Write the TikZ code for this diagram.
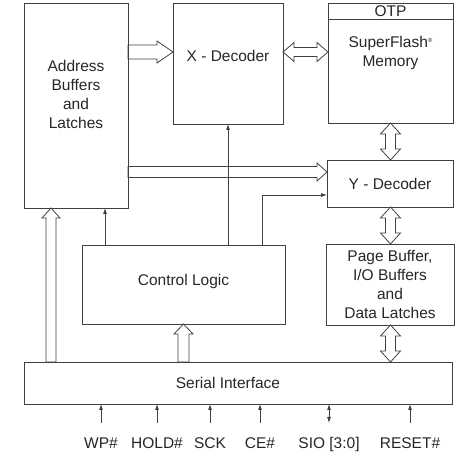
\documentclass[tikz,border=0pt]{standalone}
\usepackage{fontspec}
\setmainfont{Liberation Sans}
\usetikzlibrary{calc,arrows.meta}

\tikzset{
  wire/.style={draw=black!75, line width=0.8pt},
  box/.style={wire, inner sep=0pt, outer sep=0pt},
  txt/.style={align=center, text=black!85, font=\fontsize{15.5}{19}\selectfont},
  sig/.style={wire, -{Latex[length=6pt,width=4pt]}},
  sigboth/.style={wire, {Latex[length=6pt,width=4pt]}-{Latex[length=6pt,width=4pt]}},
  % hollow arrow: shaft half width / head half width / head length
  fat/.style args={#1/#2/#3}{to path={let \p1=($(\tikztotarget)!#3!(\tikztostart)$) in
    ($(\tikztostart)!#1!90:(\tikztotarget)$) -- ($(\p1)!#1!90:(\tikztotarget)$)
    -- ($(\p1)!#2!90:(\tikztotarget)$) -- (\tikztotarget)
    -- ($(\p1)!#2!-90:(\tikztotarget)$) -- ($(\p1)!#1!-90:(\tikztotarget)$)
    -- ($(\tikztostart)!#1!-90:(\tikztotarget)$) -- cycle}},
  fatboth/.style args={#1/#2/#3}{to path={let \p1=($(\tikztostart)!#3!(\tikztotarget)$),
    \p2=($(\tikztotarget)!#3!(\tikztostart)$) in
    (\tikztostart) -- ($(\p1)!#2!90:(\tikztotarget)$) -- ($(\p1)!#1!90:(\tikztotarget)$)
    -- ($(\p2)!#1!90:(\tikztotarget)$) -- ($(\p2)!#2!90:(\tikztotarget)$) -- (\tikztotarget)
    -- ($(\p2)!#2!-90:(\tikztotarget)$) -- ($(\p2)!#1!-90:(\tikztotarget)$)
    -- ($(\p1)!#1!-90:(\tikztotarget)$) -- ($(\p1)!#2!-90:(\tikztotarget)$) -- cycle}},
}

\begin{document}
\begin{tikzpicture}[x=1pt, y=1pt]
	\useasboundingbox (0,0) rectangle (463,467);
	% blocks
	\node[box, minimum width=104pt, minimum height=205pt, label={[txt, yshift=11pt]center:Address\\Buffers\\and\\Latches}] (addr) at (76,361.5) {};
	\node[box, minimum width=110pt, minimum height=121pt, label={[txt, yshift=7.5pt]center:X - Decoder}] (xd) at (228,403.5) {};
	\node[box, minimum width=125pt, minimum height=120pt, label={[txt, yshift=52pt]center:OTP},
		label={[txt, yshift=10.5pt]center:SuperFlash\raisebox{5pt}{\fontsize{6}{6}\selectfont ®}\\Memory}] (mem) at (390.5,404) {};
	\draw[wire] ($(mem.north west)+(0,-16)$) -- ($(mem.north east)+(0,-16)$);
	\node[box, minimum width=126pt, minimum height=47pt, label={[txt]center:Y - Decoder}] (yd) at (390,283.5) {};
	\node[box, minimum width=128pt, minimum height=81pt, label={[txt]center:Page Buffer,\\I/O Buffers\\and\\Data Latches}] (pb) at (390,182.5) {};
	\node[box, minimum width=203pt, minimum height=79pt, label={[txt, yshift=3.5pt]center:Control Logic}] (ctl) at (183.5,182.5) {};
	\node[box, minimum width=428pt, minimum height=42pt, label={[txt, xshift=-10pt]center:Serial Interface}] (si) at (238,84) {};

	% pins
	\node[txt, anchor=base] (wp) at (101,19) {WP\#};
	\node[txt, anchor=base] (hold) at (157,19) {HOLD\#};
	\node[txt, anchor=base] (sck) at (210,19) {SCK};
	\node[txt, anchor=base] (ce) at (260,19) {CE\#};
	\node[txt, anchor=base] (sio) at (329,19) {SIO [3:0]};
	\node[txt, anchor=base] (reset) at (410,19) {RESET\#};
	\foreach \n in {wp,hold,sck,ce,reset}
		\draw[sig] ([yshift=25pt]\n.base) -- (\n.base |- si.south);
	\draw[sigboth] ([yshift=25pt]sio.base) -- (sio.base |- si.south);

	% control lines
	\draw[sig] (xd.south |- ctl.north) -- (xd.south);
	\draw[sig] ($(ctl.north east)+(-23,0)$) |- ($(yd.south west)+(0,12)$);
	\draw[sig] ($(ctl.north west)+(23,0)$) -- ($(ctl.north west |- addr.south)+(23,0)$);

	% buses
	\draw[wire] ($(addr.north east)+(0,-49)$) to[fat=7pt/11pt/16pt] ($(xd.north west)+(0,-49)$);
	\draw[wire] ($(xd.north east)+(0,-49)$) to[fatboth=4.5pt/9.5pt/11pt] ($(mem.north west)+(0,-49)$);
	\draw[wire] (mem.south) to[fatboth=5pt/10pt/11pt] (mem.south |- yd.north);
	\draw[wire] (mem.south |- yd.south) to[fatboth=5pt/10pt/11pt] (mem.south |- pb.north);
	\draw[wire] (mem.south |- pb.south) to[fatboth=5pt/10pt/11pt] (mem.south |- si.north);
	\draw[wire] ($(addr.north east |- yd.north)+(0,-12)$) to[fat=5.5pt/9pt/10pt] ($(yd.north west)+(0,-12)$);
	\draw[wire] ($(si.north west)+(27,0)$) to[fat=5pt/9pt/10pt] ($(addr.south west)+(27,0)$);
	\draw[wire] (ctl.south |- si.north) to[fat=5.5pt/9.5pt/10pt] (ctl.south);
\end{tikzpicture}
\end{document}
